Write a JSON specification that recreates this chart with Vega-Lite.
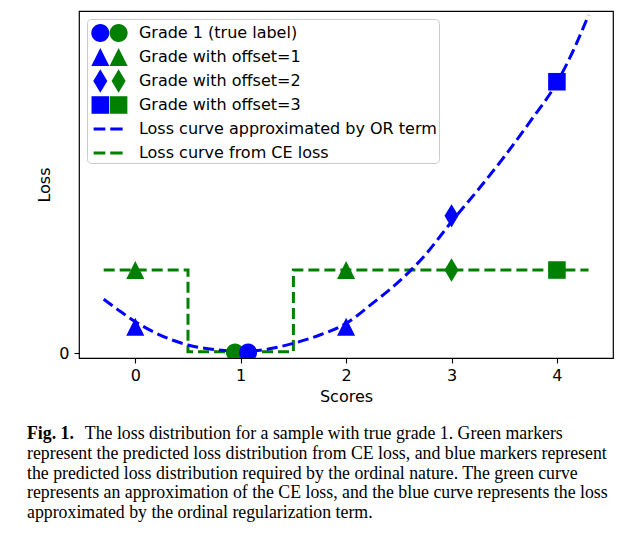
{
  "$schema": "https://vega.github.io/schema/vega-lite/v6.json",
  "width": 534,
  "height": 347,
  "autosize": {"type": "none"},
  "padding": {"left": 79, "top": 11, "right": 24, "bottom": 177},
  "background": "white",
  "config": {
    "view": {"stroke": "black", "strokeWidth": 1.2},
    "axis": {
      "labelFont": "DejaVu Sans", "labelFontSize": 16, "labelColor": "black",
      "titleFont": "DejaVu Sans", "titleFontSize": 16, "titleFontWeight": "normal", "titleColor": "black",
      "tickColor": "black", "tickSize": 5, "tickWidth": 1.1, "grid": false, "domain": false
    }
  },
  "datasets": {
    "ce": [
      {"score": -0.3, "loss": 1.0},
      {"score": 0.5, "loss": 1.0},
      {"score": 0.5, "loss": 0.02},
      {"score": 1.5, "loss": 0.02},
      {"score": 1.5, "loss": 1.0},
      {"score": 4.3, "loss": 1.0}
    ],
    "curve": [
      {"score": -0.3, "loss": 0.65},
      {"score": -0.15, "loss": 0.51},
      {"score": 0.0, "loss": 0.38},
      {"score": 0.2, "loss": 0.24},
      {"score": 0.35, "loss": 0.16},
      {"score": 0.5, "loss": 0.1},
      {"score": 0.75, "loss": 0.045},
      {"score": 1.0, "loss": 0.025},
      {"score": 1.25, "loss": 0.05},
      {"score": 1.5, "loss": 0.12},
      {"score": 1.75, "loss": 0.22},
      {"score": 2.0, "loss": 0.36},
      {"score": 2.25, "loss": 0.6},
      {"score": 2.5, "loss": 0.86},
      {"score": 2.75, "loss": 1.18},
      {"score": 3.0, "loss": 1.58},
      {"score": 3.25, "loss": 1.96},
      {"score": 3.5, "loss": 2.36},
      {"score": 3.75, "loss": 2.79},
      {"score": 4.0, "loss": 3.25},
      {"score": 4.15, "loss": 3.62},
      {"score": 4.3, "loss": 4.06}
    ],
    "markers": [
      {"score": 0.946, "loss": 0.01, "label": "Grade 1 (true label)", "model": "CE"},
      {"score": 0, "loss": 1.0, "label": "Grade with offset=1", "model": "CE"},
      {"score": 2, "loss": 1.0, "label": "Grade with offset=1", "model": "CE"},
      {"score": 3, "loss": 1.0, "label": "Grade with offset=2", "model": "CE"},
      {"score": 4, "loss": 1.0, "label": "Grade with offset=3", "model": "CE"},
      {"score": 1.07, "loss": 0.01, "label": "Grade 1 (true label)", "model": "OR"},
      {"score": 0, "loss": 0.32, "label": "Grade with offset=1", "model": "OR"},
      {"score": 2, "loss": 0.32, "label": "Grade with offset=1", "model": "OR"},
      {"score": 3, "loss": 1.65, "label": "Grade with offset=2", "model": "OR"},
      {"score": 4, "loss": 3.26, "label": "Grade with offset=3", "model": "OR"}
    ]
  },
  "title": {
    "text": "Fig. 1.",
    "subtitle": [
      "\u200b\u00a0\u00a0\u00a0\u00a0\u00a0\u00a0\u00a0\u00a0\u00a0\u00a0\u00a0\u00a0\u00a0The loss distribution for a sample with true grade 1. Green markers",
      "represent the predicted loss distribution from CE loss, and blue markers represent",
      "the predicted loss distribution required by the ordinal nature. The green curve",
      "represents an approximation of the CE loss, and the blue curve represents the loss",
      "approximated by the ordinal regularization term."
    ],
    "orient": "bottom",
    "anchor": "start",
    "frame": "group",
    "dx": -52,
    "offset": 21,
    "font": "Liberation Serif",
    "fontSize": 17.8,
    "fontWeight": "bold",
    "color": "black",
    "subtitleFont": "Liberation Serif",
    "subtitleFontSize": 17.8,
    "subtitleColor": "black",
    "subtitleLineHeight": 19.8,
    "subtitlePadding": -17.8
  },
  "encoding": {
    "x": {
      "field": "score", "type": "quantitative",
      "scale": {"domain": [-0.534, 4.532], "nice": false, "zero": false},
      "axis": {"values": [0, 1, 2, 3, 4], "format": "d", "title": "Scores", "labelPadding": 4, "titlePadding": 5}
    },
    "y": {
      "field": "loss", "type": "quantitative",
      "scale": {"domain": [-0.056, 4.109], "nice": false, "zero": false},
      "axis": {"values": [0], "format": "d", "title": "Loss", "labelPadding": 5, "titlePadding": 6}
    }
  },
  "layer": [
    {
      "data": {"name": "ce"},
      "mark": {"type": "line", "color": "#008000", "strokeWidth": 3, "strokeDash": [11, 5], "strokeCap": "butt", "clip": true},
      "encoding": {"order": {"value": null}}
    },
    {
      "data": {"name": "curve"},
      "mark": {"type": "line", "color": "#0000ff", "strokeWidth": 3, "strokeDash": [11, 5], "strokeCap": "butt", "interpolate": "monotone", "clip": true},
      "encoding": {"order": {"value": null}}
    },
    {
      "data": {"name": "markers"},
      "transform": [{"filter": "datum.model == 'CE'"}],
      "mark": {"type": "point", "filled": true, "color": "#008000", "opacity": 1, "size": 548, "clip": true},
      "encoding": {
        "shape": {
          "field": "label", "type": "nominal",
          "scale": {
            "domain": ["Grade 1 (true label)", "Grade with offset=1", "Grade with offset=2", "Grade with offset=3"],
            "range": [
              "M-0.77,0A0.77,0.77 0 1,1 0.77,0A0.77,0.77 0 1,1 -0.77,0Z",
              "M0,-0.77L0.77,0.77L-0.77,0.77Z",
              "M0,-1L0.6,0L0,1L-0.6,0Z",
              "M-0.75,-0.75H0.75V0.75H-0.75Z"
            ]
          },
          "legend": {
            "orient": "none", "legendX": 26.3, "legendY": 8, "title": null,
            "padding": 2, "rowPadding": -1.2, "gridAlign": "all", "symbolOffset": -0.7,
            "symbolSize": 548, "symbolStrokeWidth": 0,
            "symbolFillColor": "#008000", "symbolOpacity": 1,
            "labelExpr": "''", "labelFontSize": 16, "labelFont": "DejaVu Sans"
          }
        }
      }
    },
    {
      "data": {"name": "markers"},
      "transform": [{"filter": "datum.model == 'OR'"}],
      "mark": {"type": "point", "filled": true, "opacity": 1, "size": 548, "clip": true},
      "encoding": {
        "shape": {
          "field": "label", "type": "nominal",
          "scale": {
            "domain": ["Grade 1 (true label)", "Grade with offset=1", "Grade with offset=2", "Grade with offset=3", "Loss curve approximated by OR term", "Loss curve from CE loss"],
            "range": [
              "M-0.77,0A0.77,0.77 0 1,1 0.77,0A0.77,0.77 0 1,1 -0.77,0Z",
              "M0,-0.77L0.77,0.77L-0.77,0.77Z",
              "M0,-1L0.6,0L0,1L-0.6,0Z",
              "M-0.75,-0.75H0.75V0.75H-0.75Z",
              "M-0.57,-0.13H0.43V0.13H-0.57Z M0.85,-0.13H1.91V0.13H0.85Z",
              "M-0.57,-0.13H0.43V0.13H-0.57Z M0.85,-0.13H1.91V0.13H0.85Z"
            ]
          },
          "legend": {
            "orient": "none", "legendX": 8, "legendY": 8, "title": null,
            "padding": 2, "rowPadding": -1.2, "gridAlign": "all", "symbolOffset": -0.7,
            "symbolSize": 548, "symbolStrokeWidth": 0, "symbolOpacity": 1,
            "labelFont": "DejaVu Sans", "labelFontSize": 16, "labelColor": "black", "labelOffset": 26.6, "labelLimit": 400,
            "strokeColor": "#cccccc", "cornerRadius": 4
          }
        },
        "color": {
          "field": "label", "type": "nominal",
          "scale": {
            "domain": ["Grade 1 (true label)", "Grade with offset=1", "Grade with offset=2", "Grade with offset=3", "Loss curve approximated by OR term", "Loss curve from CE loss"],
            "range": ["#0000ff", "#0000ff", "#0000ff", "#0000ff", "#0000ff", "#008000"]
          },
          "legend": {
            "orient": "none", "legendX": 8, "legendY": 8, "title": null,
            "padding": 2, "rowPadding": -1.2, "gridAlign": "all", "symbolOffset": -0.7,
            "symbolSize": 548, "symbolStrokeWidth": 0, "symbolOpacity": 1,
            "labelFont": "DejaVu Sans", "labelFontSize": 16, "labelColor": "black", "labelOffset": 26.6, "labelLimit": 400,
            "strokeColor": "#cccccc", "cornerRadius": 4
          }
        }
      }
    }
  ],
  "resolve": {"scale": {"shape": "independent", "color": "independent"}}
}
